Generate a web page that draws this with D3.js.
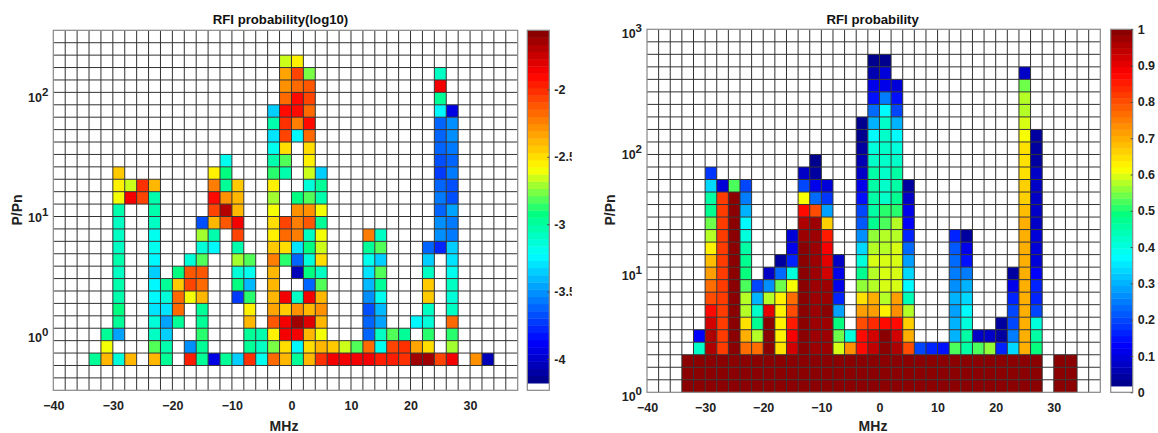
<!DOCTYPE html>
<meta charset="utf-8">
<style>
  body { margin: 0; background: #fff; }
  svg { display: block; }
  text { font-family: "Liberation Sans", Arial, sans-serif; font-weight: bold; fill: #222; }
  .title { font-size: 13.2px; fill: #111; }
  .tick text { font-size: 12.5px; }
  .name { font-size: 14px; }
  .grid line { stroke: #333; stroke-width: 1px; }
  .frame { fill: none; stroke: #888; stroke-width: 1.2px; }
</style>
<body>
<script src="https://d3js.org/d3.v7.min.js"></script>
<script>
// bin layout shared by both plots: 2 MHz wide columns from -40, 29 log rows
var freqStart = -40, freqStep = 2, freqBins = 39, powerBins = 29;
var xTicks = [-40, -30, -20, -10, 0, 10, 20, 30];

// rows go top to bottom, each row is a list of [first column, values...] runs
var leftRows = [
  [], [],
  [[19,-2.68,-2.55]],
  [[19,-2.33,-2.05,-2.75],[32,-3.07]],
  [[19,-2.27,-2.2,-2.1],[32,-1.88]],
  [[19,-2.17,-1.93,-2.05],[32,-3]],
  [[18,-3.35,-1.9,-1.92,-2.18],[32,-3.27,-3.92]],
  [[18,-3.05,-2.02,-2.25,-1.9],[32,-3.6,-3.5]],
  [[18,-3.32,-2.07,-3.27,-2.15],[32,-3.6,-3.53]],
  [[18,-3.2,-2.47],[21,-2.47],[32,-3.63,-3.58]],
  [[14,-3.18],[18,-3.05,-2.8],[21,-2.55],[32,-3.65,-3.6]],
  [[5,-2.42],[13,-2.55,-2.95],[18,-2.87,-3.05],[21,-2.68,-3.37],[32,-3.75,-3.57]],
  [[5,-2.55,-2.68,-2.02,-2.4],[13,-2.25,-2.97,-2.45],[18,-2.55],[21,-3.12,-2.97],[32,-3.6,-3.65]],
  [[5,-2.63,-1.85,-2.05,-3.03],[13,-1.9,-2.3,-2.38],[18,-2.73],[20,-2.92,-2.8,-3.05],[32,-3.57,-3.65]],
  [[5,-3.05],[8,-3.05],[13,-2.05,-1.72,-2.38],[18,-2.6],[20,-2.3,-2.27,-2.6],[32,-3.6,-3.48]],
  [[5,-3.08],[8,-3.1],[12,-3.65,-2.38,-2.13,-1.88],[18,-2.47,-2.08,-2.25,-2.1,-3],[32,-3.53,-3.57]],
  [[5,-3.08],[8,-3.2],[12,-2.73,-3.03],[15,-2.08],[18,-2.57,-2.2,-2.25,-3.1,-2.6],[26,-2.25,-3.07],[32,-3.5,-3.55]],
  [[5,-3.08],[8,-3.2],[12,-3.13,-3.25],[15,-3.03],[18,-2.45,-2.5,-3.3,-2.95,-2.68],[26,-3,-2.8],[31,-3.63,-3.78,-3.35]],
  [[5,-3.05],[8,-3.22],[11,-3.15,-2.8],[15,-2.72,-2.8],[18,-2.25,-2.85,-3.6,-3.12,-2.5],[26,-3.2,-3.33],[31,-3.33],[33,-3.3]],
  [[5,-3.07],[8,-3.35],[10,-2.93,-2.13,-2.13],[15,-3.12,-3.2],[18,-2.37],[20,-4.05,-2.95,-3.07],[26,-3.32,-2.8],[31,-3.1],[33,-3.2]],
  [[5,-3.03],[8,-3.22,-3,-2.42,-2.05,-2.15],[15,-2.95,-3.43],[18,-2.37],[21,-3.6,-2.8],[26,-3.43,-2.97],[31,-2.45],[33,-3.1]],
  [[5,-3.02],[8,-3.25,-3.15,-2.2,-2.63,-2.37],[15,-3.75,-2.88],[18,-2.37,-1.87,-3.07,-1.87,-2.4],[26,-3.5,-3.2],[31,-2.45],[33,-3.13]],
  [[5,-2.93],[8,-3.3,-3.32,-2.2],[12,-3],[16,-2.55],[18,-2.33,-2.42,-2.27,-2.38,-2.27],[26,-3.65,-3.43],[31,-3.1],[33,-3.07]],
  [[5,-3],[8,-3.12,-3.48,-2.97],[12,-2.97],[16,-2.37],[18,-2.13,-1.85,-1.62,-1.8,-2.4],[26,-3.6,-3.45],[30,-3.27,-3.15],[33,-2.17]],
  [[4,-2.97,-3.48],[8,-3.1,-3.35],[12,-2.85],[16,-3,-3.05,-2.55,-1.88,-1.83,-2.37,-2.6],[26,-3.6,-3.07,-2.8,-2.97],[31,-2.85],[33,-2.87]],
  [[4,-2.63],[8,-2.8,-3.03],[11,-3.5,-2.97],[16,-2.97,-3.1,-2.78,-2.5,-3.25,-2.5,-2.37,-2.45,-2.65,-2.8,-2.2,-3.2,-2.05,-2.03,-2.33,-2.5],[33,-2.7]],
  [[3,-2.97,-2.37,-3.15,-2.4],[8,-2.37,-2.97],[11,-1.95,-2.97,-3.95,-3,-3.37,-2,-3.2,-2.17,-2.37,-2.97,-2.37,-2.02,-1.87,-1.85,-1.87,-1.87,-1.97,-1.98,-2.02,-1.65,-1.62,-2.05,-1.85],[35,-2.27,-4.02]],
  [], []
];

var rightRows = [
  [], [],
  [[19,.03,.03]],
  [[19,.06,.09],[32,.07]],
  [[19,.11,.11,.1],[32,.54]],
  [[19,.15,.25,.14],[32,.58]],
  [[19,.23,.37,.2],[32,.585]],
  [[18,.03,.31,.42,.31],[32,.6]],
  [[18,.03,.37,.43,.37],[32,.62,.04]],
  [[18,.05,.4,.43,.4],[32,.64,.05]],
  [[14,.03],[18,.06,.43,.43,.43],[32,.64,.05]],
  [[5,.18],[13,.07,.05],[18,.07,.46,.43,.45],[32,.65,.07]],
  [[5,.33,.1,.52,.2],[13,.2,.11,.09],[18,.11,.45,.43,.46,.05],[32,.66,.07]],
  [[5,.45,.82,.99,.25],[13,.62,.23,.18],[18,.15,.46,.43,.48,.07],[32,.67,.07]],
  [[5,.48,.82,.99,.31],[13,.87,.8,.29],[18,.2,.46,.5,.5,.12],[32,.68,.08]],
  [[5,.54,.82,.99,.37],[13,.95,.97,.67],[18,.22,.48,.52,.58,.13],[32,.69,.08]],
  [[5,.58,.82,.99,.4],[12,.09,.98,.98,.86],[18,.27,.56,.58,.58,.17],[26,.16,.05],[32,.7,.09]],
  [[5,.63,.82,.99,.46],[12,.11,.99,.98,.88],[18,.33,.57,.58,.59,.23],[26,.21,.11],[32,.7,.1]],
  [[5,.68,.82,.99,.48],[11,.05,.16,.99,.98,.9,.08],[18,.41,.59,.59,.6,.29],[26,.24,.15],[32,.7,.1]],
  [[5,.72,.82,.99,.49],[10,.08,.24,.4,.99,.98,.92,.11],[18,.47,.58,.59,.6,.33],[26,.25,.25],[31,.04,.7,.13]],
  [[5,.77,.82,.99,.52,.19,.27,.54,.62,.99,.98,.97,.12],[18,.56,.57,.59,.6,.37],[26,.27,.31],[31,.11,.7,.17]],
  [[5,.8,.82,.99,.57,.31,.58,.63,.77,.99,.98,.98,.17],[18,.64,.69,.58,.72,.44],[26,.31,.33],[31,.17,.7,.17]],
  [[5,.87,.82,.99,.58,.42,.9,.63,.8,.99,.98,.99,.28],[18,.71,.72,.63,.74,.57],[26,.28,.37],[31,.19,.7,.19]],
  [[5,.93,.82,.99,.64,.48,.99,.63,.86,.99,.98,.98,.49],[18,.8,.83,.87,.87,.66],[26,.3,.4],[30,.04,.2,.7,.41]],
  [[4,.13,.95,.82,.99,.69,.58,.99,.63,.89,.99,.98,.98,.54,.41,.87,.93,.99,.93,.7],[26,.31,.45,.08,.08,.04,.25,.7,.45]],
  [[4,.43,.95,.82,.99,.76,.77,.99,.64,.92,.99,.98,.98,.6,.74,.87,.94,.99,.95,.81,.2,.16,.15,.52,.46,.52,.56,.16,.33,.7,.49]],
  [[3,1,1,1,1,1,1,1,1,1,1,1,1,1,1,1,1,1,1,1,1,1,1,1,1,1,1,1,1,1,1,1],[35,1,1]],
  [[3,1,1,1,1,1,1,1,1,1,1,1,1,1,1,1,1,1,1,1,1,1,1,1,1,1,1,1,1,1,1,1],[35,1,1]],
  [[3,1,1,1,1,1,1,1,1,1,1,1,1,1,1,1,1,1,1,1,1,1,1,1,1,1,1,1,1,1,1,1],[35,1,1]]
];

var leftBarTicks = [-4, -3.5, -3, -2.5, -2];
var rightBarTicks = [0, .1, .2, .3, .4, .5, .6, .7, .8, .9, 1];

// jet with a stronger green, as in the reference colorbars
var jet = d3.scaleLinear()
  .domain([0, .11, .36, .48, .61, .885, 1])
  .range(["#00008f", "#0000ff", "#00ffff", "#00ff80", "#ffff00", "#ff0000", "#8b0000"]);

var svg = d3.select("body").append("svg").attr("width", 1158).attr("height", 433);

function drawPanel(o) {
  var g = svg.append("g");

  var x = d3.scaleLinear()
    .domain([freqStart, freqStart + freqStep * freqBins])
    .range([o.left, o.right]);
  var y = d3.scaleLog().domain(o.powerRange).range([o.bottom, o.top]);

  // equal steps in log10(P/Pn), row 0 on top
  var logTop = Math.log10(o.powerRange[1]), logBottom = Math.log10(o.powerRange[0]);
  function rowEdge(r) { return Math.pow(10, logTop - r * (logTop - logBottom) / powerBins); }
  function colEdge(c) { return freqStart + c * freqStep; }

  // the color scale has one white bottom level, the rest is jet
  var level = d3.scaleQuantize().domain(o.valueRange).range(d3.range(o.levels));
  function levelColor(l) { return l == 0 ? "#fff" : jet((l - 1) / (o.levels - 2)); }

  var cells = [];
  o.rows.forEach(function(runs, r) {
    runs.forEach(function(run) {
      run.slice(1).forEach(function(v, i) {
        cells.push({row: r, col: run[0] + i, value: v});
      });
    });
  });

  g.selectAll("rect.cell")
      .data(cells)
    .enter().append("rect")
      .attr("class", "cell")
      .attr("x", function(d) { return x(colEdge(d.col)); })
      .attr("y", function(d) { return y(rowEdge(d.row)); })
      .attr("width", function(d) { return x(colEdge(d.col + 1)) - x(colEdge(d.col)); })
      .attr("height", function(d) { return y(rowEdge(d.row + 1)) - y(rowEdge(d.row)); })
      .style("fill", function(d) { return levelColor(level(d.value)); });

  // grid lines on top of the cells
  var grid = g.append("g").attr("class", "grid");
  grid.selectAll("line.v")
      .data(d3.range(1, freqBins))
    .enter().append("line")
      .attr("x1", function(c) { return x(colEdge(c)); })
      .attr("x2", function(c) { return x(colEdge(c)); })
      .attr("y1", o.top)
      .attr("y2", o.bottom);
  grid.selectAll("line.h")
      .data(d3.range(1, powerBins))
    .enter().append("line")
      .attr("y1", function(r) { return y(rowEdge(r)); })
      .attr("y2", function(r) { return y(rowEdge(r)); })
      .attr("x1", o.left)
      .attr("x2", o.right);

  g.append("rect")
      .attr("class", "frame")
      .attr("x", o.left)
      .attr("y", o.top)
      .attr("width", o.right - o.left)
      .attr("height", o.bottom - o.top);

  // x axis
  var xAxis = g.append("g")
      .attr("transform", "translate(0," + (o.bottom + 10.5) + ")")
      .call(d3.axisBottom(x).tickValues(xTicks).tickSize(0).tickPadding(0).tickFormat(d3.format("d")));
  xAxis.select(".domain").remove();
  xAxis.selectAll("text").style("font-family", null).style("font-weight", null);

  // y axis, powers of ten with a raised exponent
  var yAxis = g.append("g")
      .attr("transform", "translate(" + (o.left - 5) + ",0)")
      .call(d3.axisLeft(y).tickValues(o.powerTicks).tickSize(0).tickFormat(""));
  yAxis.select(".domain").remove();
  yAxis.selectAll(".tick text").remove();
  var yLabel = yAxis.selectAll(".tick").append("text")
      .attr("text-anchor", "end")
      .attr("y", 8.5);
  yLabel.append("tspan").text("10");
  yLabel.append("tspan")
      .attr("dy", -6)
      .style("font-size", "11.5px")
      .text(function(d) { return Math.round(Math.log10(d)); });

  g.append("text")
      .attr("class", "title")
      .attr("x", o.titleX)
      .attr("y", 24)
      .attr("text-anchor", "middle")
      .text(o.title);

  g.append("text")
      .attr("class", "name")
      .attr("x", o.nameX)
      .attr("y", 431)
      .attr("text-anchor", "middle")
      .text("MHz");

  g.append("text")
      .attr("class", "name")
      .attr("transform", "translate(" + o.yNameX + ",210) rotate(-90)")
      .attr("text-anchor", "middle")
      .text("P/Pn");

  // colorbar
  var barY = d3.scaleLinear().domain(o.valueRange).range([o.bottom, o.top]);
  var barStep = (o.valueRange[1] - o.valueRange[0]) / o.levels;
  var bar = g.append("g");
  bar.selectAll("rect")
      .data(d3.range(o.levels))
    .enter().append("rect")
      .attr("x", o.barLeft)
      .attr("width", o.barWidth)
      .attr("y", function(l) { return barY(o.valueRange[0] + (l + 1) * barStep); })
      .attr("height", function(l) { return barY(o.valueRange[0] + l * barStep) - barY(o.valueRange[0] + (l + 1) * barStep) + .4; })
      .style("fill", levelColor);
  bar.append("rect")
      .attr("class", "frame")
      .attr("x", o.barLeft)
      .attr("y", o.top)
      .attr("width", o.barWidth)
      .attr("height", o.bottom - o.top);

  // the reference cuts its colorbar labels off at the edge of the axes box
  var clipId = "clip" + Math.round(o.barLeft);
  svg.append("clipPath").attr("id", clipId).append("rect")
      .attr("x", o.barLeft)
      .attr("y", 0)
      .attr("width", o.barClip)
      .attr("height", 433);

  var barAxis = bar.append("g")
      .attr("clip-path", "url(#" + clipId + ")")
    .append("g")
      .attr("transform", "translate(" + (o.barLeft + o.barWidth) + ",0)")
      .call(d3.axisRight(barY).tickValues(o.barTicks).tickSize(-2).tickPadding(5).tickFormat(function(d) { return d; }));
  barAxis.select(".domain").remove();
  barAxis.selectAll("line").style("stroke", "#444");
}

drawPanel({
  rows: leftRows,
  title: "RFI probability(log10)",
  titleX: 280.5,
  nameX: 284,
  yNameX: 22,
  left: 53.3, right: 517.7, top: 30.3, bottom: 390.3,
  powerRange: [1 / 3, 1000 / 3],
  powerTicks: [1, 10, 100],
  valueRange: [-4.232, -1.562],
  levels: 50,
  barLeft: 527.3, barWidth: 22, barClip: 44.5,
  barTicks: leftBarTicks
});

drawPanel({
  rows: rightRows,
  title: "RFI probability",
  titleX: 872.7,
  nameX: 873,
  yNameX: 615,
  left: 647, right: 1100.3, top: 29.3, bottom: 392.3,
  powerRange: [1, 1000],
  powerTicks: [1, 10, 100, 1000],
  valueRange: [0, 1],
  levels: 58,
  barLeft: 1110.7, barWidth: 22, barClip: 47,
  barTicks: rightBarTicks
});
</script>
</body>
